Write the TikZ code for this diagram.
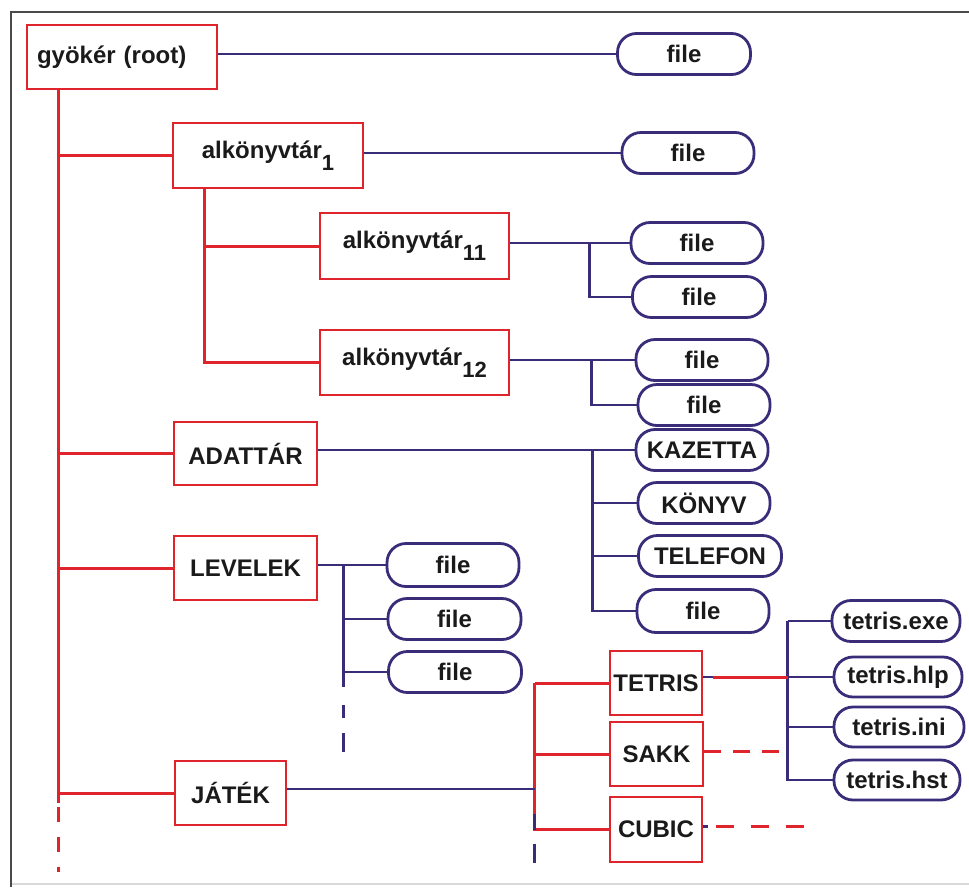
\documentclass[tikz,border=0pt]{standalone}
\usepackage{fontspec}
\setmainfont{Liberation Sans}
\usetikzlibrary{calc}
\definecolor{dred}{HTML}{E0242C}
\definecolor{dblue}{HTML}{3B2C7A}
\definecolor{ink}{HTML}{1A1A1A}
\definecolor{framec}{HTML}{4A4A4A}
\definecolor{framel}{HTML}{D8D8D8}
\newcommand\subn[1]{\raisebox{-12pt}{\fontsize{22pt}{22pt}\selectfont #1}}
\begin{document}
\begin{tikzpicture}[x=1pt,y=-1pt,
 txt/.style={font=\fontsize{24pt}{26pt}\selectfont\bfseries, text=ink},
 dirbox/.style={txt, draw=dred, line width=2.8pt, inner sep=0pt},
 filebox/.style={txt, draw=dblue, line width=2.8pt, rounded corners=19pt, inner sep=0pt, minimum height=41pt, minimum width=132pt},
 redln/.style={draw=dred, line width=3pt},
 blueln/.style={draw=dblue, line width=2.8pt},
]
\useasboundingbox (0,0) rectangle (969,887);
\fill[white] (0,0) rectangle (969,887);
\draw[framel, line width=1.5pt] (11,884) -- (969,884);
\draw[framec, line width=2pt] (11,887) -- (11,12) -- (969,12);

% directory boxes
\node[dirbox, minimum width=190pt, minimum height=64pt, text width=170pt, align=left] (root) at (122,57) {gyökér (root)};
\node[dirbox, minimum width=190pt, minimum height=65pt] (alk1) at (268,155.5) {alkönyvtár\subn{1}};
\node[dirbox, minimum width=189pt, minimum height=66pt] (alk11) at (414.5,246) {alkönyvtár\subn{11}};
\node[dirbox, minimum width=189pt, minimum height=65pt] (alk12) at (414.5,362.5) {alkönyvtár\subn{12}};
\node[dirbox, minimum width=143pt, minimum height=63pt] (adat) at (245.5,453.5) {ADATTÁR};
\node[dirbox, minimum width=143pt, minimum height=64pt] (lev) at (245.5,568) {LEVELEK};
\node[dirbox, minimum width=111pt, minimum height=64pt] (jat) at (230.5,793) {JÁTÉK};
\node[dirbox, minimum width=92pt, minimum height=64pt] (tet) at (656,683) {TETRIS};
\node[dirbox, minimum width=93pt, minimum height=64pt] (sakk) at (656.5,754) {SAKK};
\node[dirbox, minimum width=92pt, minimum height=65pt] (cub) at (656,829.5) {CUBIC};

% files
\node[filebox, minimum width=133pt] (f1) at (684,54) {file};
\node[filebox] (f2) at (688,153) {file};
\node[filebox] (f3) at (697,243) {file};
\node[filebox, minimum width=133pt] (f4) at (699,297) {file};
\node[filebox] (f5) at (702,360) {file};
\node[filebox] (f6) at (704,405) {file};
\node[filebox] (kaz) at (702,450) {KAZETTA};
\node[filebox] (kony) at (704,503) {KÖNYV};
\node[filebox, minimum width=143pt] (tel) at (710,556) {TELEFON};
\node[filebox, minimum height=43pt] (f7) at (703,611) {file};
\node[filebox, minimum height=43pt] (l1) at (453,565) {file};
\node[filebox, minimum width=133pt] (l2) at (454.5,619) {file};
\node[filebox, minimum width=133pt] (l3) at (455,672) {file};
\node[filebox, minimum width=128pt] (exe) at (896,621) {tetris.exe};
\node[filebox, minimum width=128pt, minimum height=40pt] (hlp) at (898,677) {tetris.hlp};
\node[filebox, minimum width=130pt, minimum height=40pt] (ini) at (899,727) {tetris.ini};
\node[filebox, minimum width=126pt, minimum height=40pt] (hst) at (897,780) {tetris.hst};

% root
\draw[blueln] (root.east |- f1.west) -- (f1.west);
\coordinate (rt) at ($(root.south west)+(33,0)$);
\draw[redln] (rt) -- ($(rt |- jat.west)+(0,10)$);
\draw[redln, dash pattern=on 15pt off 15pt] ($(rt |- jat.west)+(0,14)$) -- ($(rt |- jat.west)+(0,79)$);
\foreach \n in {alk1,adat,lev,jat} \draw[redln] (rt |- \n.west) -- (\n.west);

% alk1
\coordinate (at) at ($(alk1.south west)+(33,0)$);
\draw[redln] (at) |- (alk12.west);
\draw[redln] (at |- alk11.west) -- (alk11.west);
\draw[blueln] (alk1.east |- f2.west) -- (f2.west);
\draw[blueln] (alk11.east |- f3.west) -- (f3.west);
\coordinate (b11) at ($(f3.west)+(-40,0)$);
\draw[blueln] (b11) |- (f4.west);
\draw[blueln] (alk12.east |- f5.west) -- (f5.west);
\coordinate (b12) at ($(f5.west)+(-43,0)$);
\draw[blueln] (b12) |- (f6.west);

% adattar
\draw[blueln] (adat.east |- kaz.west) -- (kaz.west);
\coordinate (ba) at ($(kaz.west)+(-42,0)$);
\draw[blueln] (ba) |- (f7.west);
\draw[blueln] (ba |- kony.west) -- (kony.west);
\draw[blueln] (ba |- tel.west) -- (tel.west);

% levelek
\draw[blueln] (lev.east |- l1.west) -- (l1.west);
\coordinate (bl) at ($(l1.west)+(-42,0)$);
\draw[blueln] (bl) -- ($(bl |- l3.west)+(0,15)$);
\draw[blueln] (bl |- l2.west) -- (l2.west);
\draw[blueln] (bl |- l3.west) -- (l3.west);
\draw[blueln, dash pattern=on 13pt off 15pt on 19pt off 5pt] ($(bl |- l3.west)+(0,33)$) -- ($(bl |- l3.west)+(0,80)$);

% jatek
\coordinate (jv) at ($(tet.west)+(-74,0)$);
\draw[redln] (jv) |- (cub.west);
\draw[redln] (jv) -- (tet.west);
\draw[redln] (jv |- sakk.west) -- (sakk.west);
\draw[blueln] ($(jat.east)+(0,-4)$) -- ($(jv |- jat.east)+(0,-4)$);
\draw[blueln] ($(jv |- cub.west)+(0,-16)$) -- (jv |- cub.west);
\draw[blueln] ($(jv |- cub.west)+(0,14)$) -- ($(jv |- cub.west)+(0,33)$);

% tetris
\coordinate (tv) at ($(exe.west)+(-43,0)$);
\draw[blueln] (tv) |- (hst.west);
\draw[blueln] (tv) -- (exe.west);
\draw[blueln] (tv |- hlp.west) -- (hlp.west);
\draw[blueln] (tv |- ini.west) -- (ini.west);
\coordinate (tstub) at ($(tet.east |- hlp.west)+(10,0)$);
\draw[blueln] (tet.east |- hlp.west) -- (tstub);
\draw[redln] (tstub) -- (tv |- hlp.west);

% sakk, cubic
\coordinate (se) at ($(sakk.east)+(0,-3)$);
\coordinate (send) at ($(se)+(75,0)$);
\draw[redln, dash pattern=on 17pt off 12pt] (se) -- (send);
\coordinate (ce) at ($(cub.east)+(0,-3)$);
\coordinate (cstub) at ($(ce)+(5,0)$);
\coordinate (cd1) at ($(ce)+(13,0)$);
\coordinate (cend) at ($(ce)+(101,0)$);
\draw[blueln] (ce) -- (cstub);
\draw[redln, dash pattern=on 18pt off 17pt] (cd1) -- (cend);
\end{tikzpicture}
\end{document}
